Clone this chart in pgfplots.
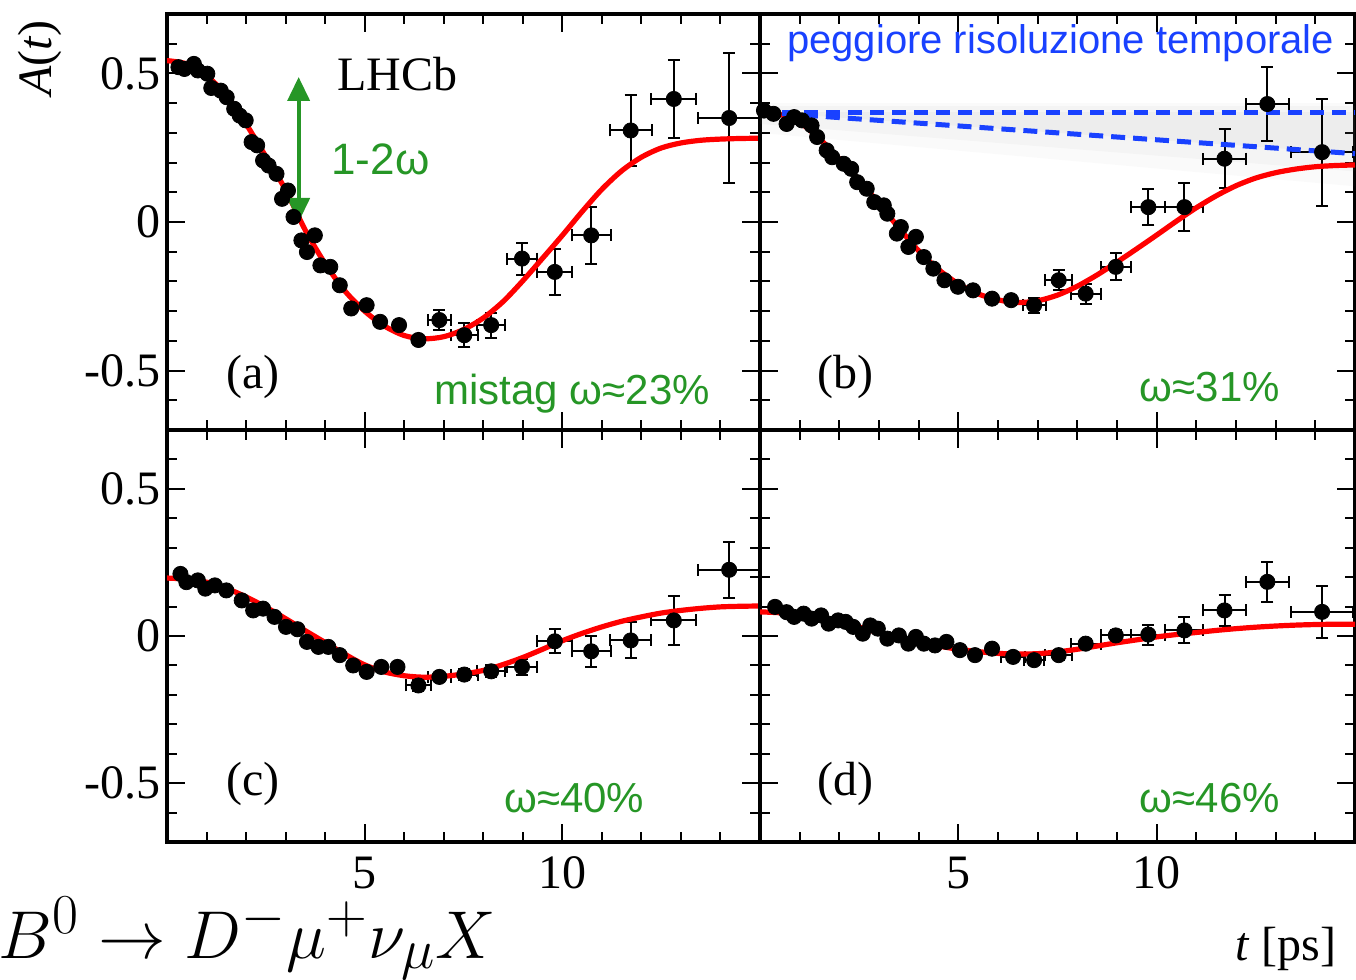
\documentclass[border=0pt]{standalone}
\usepackage{pgfplots}
\pgfplotsset{compat=1.18}
\usepackage{pgfplotstable}
\usepackage{graphicx}
\usepackage{fontspec}
\setmainfont{Liberation Serif}
\newfontfamily\sansf{Liberation Sans}
\usetikzlibrary{arrows.meta}
\definecolor{mygreen}{RGB}{38,150,38}
\definecolor{myblue}{RGB}{25,65,255}

% dense points (x y)
\pgfplotstableread{
x y
0.29 0.521
0.44 0.515
0.68 0.532
0.78 0.510
1.02 0.499
1.12 0.451
1.36 0.442
1.51 0.420
1.70 0.381
1.84 0.358
1.99 0.342
2.14 0.269
2.28 0.258
2.43 0.207
2.57 0.190
2.77 0.162
2.91 0.078
3.06 0.106
3.20 0.017
3.40 -0.062
3.54 -0.101
3.74 -0.045
3.88 -0.146
4.13 -0.151
4.37 -0.213
4.66 -0.291
5.05 -0.280
5.39 -0.336
5.87 -0.347
6.36 -0.397
}\denseA
\pgfplotstableread{
x y ex ey
6.89 -0.330 0.30 0.035
7.52 -0.381 0.34 0.040
8.20 -0.347 0.36 0.042
8.98 -0.123 0.39 0.054
9.81 -0.168 0.44 0.078
10.73 -0.045 0.49 0.097
11.73 0.308 0.53 0.120
12.82 0.414 0.57 0.130
14.22 0.350 0.80 0.220
}\wideA
\pgfplotstableread{
x y
0.10 0.375
0.34 0.364
0.67 0.330
0.86 0.353
1.06 0.342
1.30 0.325
1.44 0.286
1.68 0.241
1.82 0.218
2.11 0.196
2.30 0.179
2.45 0.134
2.69 0.112
2.88 0.067
3.12 0.056
3.21 0.028
3.45 -0.039
3.55 -0.017
3.74 -0.084
3.93 -0.050
4.13 -0.118
4.37 -0.157
4.65 -0.196
4.99 -0.218
5.37 -0.230
5.85 -0.258
6.33 -0.263
}\denseB
\pgfplotstableread{
x y ex ey
6.91 -0.280 0.29 0.025
7.53 -0.196 0.34 0.034
8.21 -0.241 0.38 0.034
8.97 -0.151 0.38 0.045
9.79 0.050 0.43 0.060
10.70 0.050 0.48 0.081
11.71 0.213 0.53 0.099
12.79 0.397 0.55 0.123
14.17 0.235 0.79 0.180
}\wideB
\pgfplotstableread{
x y
0.34 0.211
0.49 0.183
0.78 0.189
0.97 0.161
1.21 0.172
1.50 0.155
1.89 0.121
2.18 0.087
2.43 0.093
2.72 0.065
3.01 0.031
3.30 0.023
3.54 -0.020
3.83 -0.037
4.08 -0.037
4.37 -0.065
4.71 -0.100
5.05 -0.122
5.42 -0.105
5.83 -0.105
}\denseC
\pgfplotstableread{
x y ex ey
6.36 -0.168 0.32 0.020
6.89 -0.139 0.29 0.015
7.52 -0.131 0.34 0.020
8.20 -0.120 0.36 0.020
8.98 -0.105 0.39 0.028
9.81 -0.018 0.44 0.041
10.73 -0.052 0.49 0.053
11.73 -0.015 0.52 0.061
12.82 0.053 0.57 0.084
14.22 0.225 0.80 0.095
}\wideC
\pgfplotstableread{
x y
0.38 0.099
0.67 0.081
0.86 0.065
1.10 0.076
1.30 0.059
1.54 0.070
1.73 0.042
1.97 0.053
2.16 0.048
2.35 0.031
2.59 0.008
2.78 0.036
2.97 0.025
3.21 -0.009
3.50 0.002
3.74 -0.026
3.93 -0.003
4.13 -0.026
4.41 -0.032
4.70 -0.020
5.04 -0.048
5.42 -0.065
5.85 -0.043
}\denseD
\pgfplotstableread{
x y ex ey
6.38 -0.071 0.31 0.015
6.91 -0.082 0.26 0.015
7.53 -0.065 0.34 0.015
8.21 -0.026 0.38 0.015
8.97 0.002 0.38 0.020
9.79 0.005 0.43 0.034
10.70 0.019 0.48 0.044
11.71 0.087 0.53 0.052
12.79 0.184 0.55 0.069
14.17 0.082 0.79 0.089
}\wideD

\tikzset{
  lab/.style={font=\fontsize{24}{24}\selectfont},
  grn/.style={font=\sansf\fontsize{21}{21}\selectfont, text=mygreen, anchor=base},
}
\pgfplotsset{
  panel/.style={
    scale only axis, width=296.5pt, height=208pt,
    xmin=0, xmax=15, ymin=-0.7, ymax=0.7,
    axis line style={line width=2pt},
    tick align=inside,
    xtick={5,10}, minor xtick={1,2,3,4,6,7,8,9,11,12,13,14},
    ytick={-0.5,0,0.5},
    minor ytick={-0.6,-0.4,-0.3,-0.2,-0.1,0.1,0.2,0.3,0.4,0.6},
    major tick length=9pt, minor tick length=5pt,
    tick style={black, line width=1pt},
    xticklabels={}, yticklabels={},
    ticklabel style={font=\fontsize{24}{24}\selectfont},
    yticklabel style={inner sep=2pt, xshift=-1pt},
    xticklabel style={yshift=-4pt},
  },
  dense/.style={only marks, mark=*, mark size=3.8pt, black},
  wide/.style={only marks, mark=*, mark size=3.8pt, black,
    error bars/.cd, x dir=both, x explicit, y dir=both, y explicit,
    error bar style={line width=1pt, black},
    error mark options={rotate=90, line width=1pt, mark size=3pt, black}},
  fit/.style={red, line width=2.6pt, smooth},
}

\begin{document}
\begin{tikzpicture}
\useasboundingbox (0,0) rectangle (678pt,-490pt);

% panel (a)
\begin{axis}[panel, at={(83.5pt,-215pt)}, anchor=south west,
  yticklabels={-0.5,0,0.5}]
\addplot[dense] table[x=x,y=y] {\denseA};
\addplot[wide] table[x=x,y=y,x error=ex,y error=ey] {\wideA};
\addplot[fit] coordinates {(0,0.543) (0.5,0.532) (1,0.493) (1.5,0.426) (2,0.330) (2.5,0.220) (3,0.108) (3.5,-0.028) (4,-0.140) (4.5,-0.232) (5,-0.300) (5.5,-0.350) (6,-0.382) (6.5,-0.393) (7,-0.386) (7.5,-0.362) (8,-0.323) (8.5,-0.268) (9,-0.198) (9.5,-0.122) (10,-0.045) (10.5,0.035) (11,0.110) (11.5,0.172) (12,0.218) (12.5,0.249) (13,0.266) (13.5,0.275) (14,0.279) (14.5,0.281) (15,0.282)};
\draw[mygreen, line width=2pt, {Triangle[length=12pt,width=11pt]}-{Triangle[length=12pt,width=11pt]}] (axis cs:3.33,0.0) -- (axis cs:3.33,0.488);
\node[lab] at (axis cs:5.83,0.498) {LHCb};
\node[font=\sansf\fontsize{22}{22}\selectfont, text=mygreen] at (axis cs:5.4,0.21) {1-2ω};
\node[lab] at (axis cs:2.17,-0.52) {(a)};
\node[grn] at (axis cs:10.25,-0.614) {mistag ω≈23\%};
\end{axis}

% panel (b)
\begin{axis}[panel, at={(380pt,-215pt)}, anchor=south west, width=297.5pt]
\addplot[draw=none, fill=gray, fill opacity=0.04] coordinates {(0,0.40) (15,0.40) (15,0.12) (0,0.30)} -- cycle;
\addplot[draw=none, fill=gray, fill opacity=0.05] coordinates {(0,0.39) (15,0.39) (15,0.17) (0,0.33)} -- cycle;
\addplot[draw=none, fill=gray, fill opacity=0.06] coordinates {(0,0.37) (15,0.37) (15,0.23)} -- cycle;
\addplot[dense] table[x=x,y=y] {\denseB};
\addplot[wide] table[x=x,y=y,x error=ex,y error=ey] {\wideB};
\addplot[fit] coordinates {(0,0.370) (0.5,0.362) (1,0.335) (1.5,0.280) (2,0.212) (2.5,0.140) (3,0.062) (3.5,-0.020) (4,-0.097) (4.5,-0.160) (5,-0.208) (5.5,-0.242) (6,-0.262) (6.5,-0.271) (7,-0.265) (7.5,-0.246) (8,-0.216) (8.5,-0.178) (9,-0.135) (9.5,-0.090) (10,-0.044) (10.5,0.003) (11,0.048) (11.5,0.088) (12,0.122) (12.5,0.148) (13,0.166) (13.5,0.178) (14,0.186) (14.5,0.190) (15,0.192)};
\addplot[myblue, line width=2.5pt, dash pattern=on 7pt off 4pt] coordinates {(0,0.37) (15,0.37)};
\addplot[myblue, line width=2.5pt, dash pattern=on 7pt off 4pt] coordinates {(0,0.37) (15,0.23)};
\node[font=\sansf\fontsize{20}{20}\selectfont, text=myblue, anchor=base] at (axis cs:7.58,0.566) {peggiore risoluzione temporale};
\node[lab] at (axis cs:2.15,-0.52) {(b)};
\node[grn] at (axis cs:11.34,-0.603) {ω≈31\%};
\end{axis}

% panel (c)
\begin{axis}[panel, at={(83.5pt,-421pt)}, anchor=south west, height=206pt,
  yticklabels={-0.5,0,0.5}, xticklabels={5,10}]
\addplot[dense] table[x=x,y=y] {\denseC};
\addplot[wide] table[x=x,y=y,x error=ex,y error=ey] {\wideC};
\addplot[fit] coordinates {(0,0.197) (0.5,0.193) (1,0.183) (1.5,0.162) (2,0.133) (2.5,0.098) (3,0.059) (3.5,0.018) (4,-0.022) (4.5,-0.062) (5,-0.098) (5.5,-0.122) (6,-0.135) (6.5,-0.140) (7,-0.137) (7.5,-0.129) (8,-0.117) (8.5,-0.097) (9,-0.073) (9.5,-0.045) (10,-0.016) (10.5,0.009) (11,0.031) (11.5,0.050) (12,0.065) (12.5,0.078) (13,0.087) (13.5,0.094) (14,0.099) (14.5,0.101) (15,0.102)};
\node[lab] at (axis cs:2.17,-0.502) {(c)};
\node[grn] at (axis cs:10.3,-0.60) {ω≈40\%};
\end{axis}

% panel (d)
\begin{axis}[panel, at={(380pt,-421pt)}, anchor=south west, width=297.5pt, height=206pt,
  xticklabels={5,10}]
\addplot[dense] table[x=x,y=y] {\denseD};
\addplot[wide] table[x=x,y=y,x error=ex,y error=ey] {\wideD};
\addplot[fit] coordinates {(0,0.082) (0.5,0.079) (1,0.072) (1.5,0.061) (2,0.048) (2.5,0.030) (3,0.011) (3.5,-0.005) (4,-0.020) (4.5,-0.034) (5,-0.045) (5.5,-0.053) (6,-0.059) (6.5,-0.061) (7,-0.060) (7.5,-0.054) (8,-0.045) (8.5,-0.034) (9,-0.023) (9.5,-0.013) (10,-0.003) (10.5,0.005) (11,0.012) (11.5,0.019) (12,0.025) (12.5,0.030) (13,0.034) (13.5,0.037) (14,0.039) (14.5,0.040) (15,0.040)};
\node[lab] at (axis cs:2.15,-0.502) {(d)};
\node[grn] at (axis cs:11.34,-0.60) {ω≈46\%};
\end{axis}

\node[lab, rotate=90] at (20pt,-29pt) {\textit{A}(\textit{t})};
\node[anchor=base west, inner sep=0pt, font=\fontsize{24.88}{25}\selectfont] at (-1pt,-479pt) {\scalebox{1.36}{$B^0\to D^-\mu^+\nu_\mu X$}};
\node[anchor=base east, inner sep=0pt, lab] at (668.5pt,-480pt) {\textit{t} [ps]};
\end{tikzpicture}
\end{document}
